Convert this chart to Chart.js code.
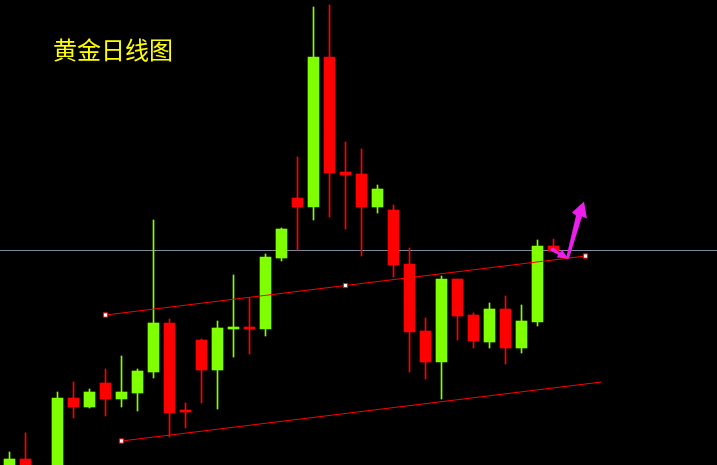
<!DOCTYPE html>
<html>
<head>
<meta charset="utf-8">
<script src="https://cdn.jsdelivr.net/npm/chart.js@4.4.1/dist/chart.umd.min.js"></script>
<style>
  html, body { margin: 0; padding: 0; background: #000; }
  #wrap { position: relative; width: 717px; height: 465px; background: #000; }
  #title {
    position: absolute; left: 53px; top: 35px;
    font-family: "Noto Sans CJK SC", sans-serif; font-size: 24px; line-height: 28px;
    color: #ffff00; white-space: nowrap;
  }
</style>
</head>
<body>
<div id="wrap">
  <canvas id="goldChart" width="717" height="465"></canvas>
  <div id="title">黄金日线图</div>
</div>
<script>
// daily candles, left to right
const opens  = [1180, 1185.5, 1179, 1178, 1216, 1211.5, 1223.5, 1215.5, 1218.5, 1229, 1253.5, 1210, 1245, 1230, 1250.5, 1251.5, 1250.5, 1286, 1316, 1311.5, 1386.5, 1329, 1328, 1311.5, 1310, 1283, 1249.5, 1234, 1275.5, 1257.5, 1244, 1260.5, 1241, 1254, 1292];
const highs  = [1189, 1198.5, 1181, 1219, 1224, 1220.5, 1230.5, 1237, 1230.5, 1305, 1255.5, 1213.5, 1245.5, 1254.5, 1277.5, 1266, 1288, 1301, 1336.5, 1411.5, 1412.5, 1344, 1340.5, 1322.5, 1312.5, 1291, 1256, 1277, 1275.5, 1258.5, 1263.5, 1267, 1262.5, 1295, 1295.5];
const lows   = [1175, 1176, 1168, 1176, 1206, 1211, 1207, 1211.5, 1209.5, 1226, 1196.5, 1201, 1213.5, 1210.5, 1236.5, 1238, 1247, 1284.5, 1290, 1305, 1306.5, 1300.5, 1287, 1308.5, 1276.5, 1229, 1225.5, 1215.5, 1245, 1241, 1241, 1233, 1238.5, 1252, 1289.5];
const closes = [1185.5, 1179, 1172, 1216, 1211.5, 1219, 1215.5, 1219, 1229.5, 1253.5, 1208.5, 1209, 1230, 1251, 1251.5, 1250.5, 1286.5, 1300.5, 1311.5, 1386.5, 1328.5, 1327.5, 1311.5, 1320.5, 1282.5, 1249, 1234, 1275.5, 1257, 1244.5, 1260.5, 1241, 1254.5, 1292, 1289.5];

// channel lines: [candle index, price]
const upperChannel = [[6, 1257.5], [21, 1272.25], [36, 1287]];
const lowerChannel = [[7, 1194.5], [37, 1224]];
const priceLine = 1289.75;

const UP = '#7fff00';
const DOWN = '#ff0000';

const idx = opens.map((_, i) => i);
const colors = idx.map(i => closes[i] >= opens[i] ? UP : DOWN);

// magenta arrow, anchored on the channel, shape in pixels
const arrowAnchor = [34.875, 1285.8];
const arrowShapes = [
  [[-1.5, 0], [8.5, -43], [4.5, -46], [16.5, -57], [19.5, -40], [14.5, -42], [1.5, 0]],
  [[-16.5, -10], [-14.5, -11], [-7.5, -6], [-5.5, -9], [0.5, 0], [-10.5, -1], [-9.5, -4], [-17.5, -8]]
];

const arrowPlugin = {
  id: 'arrow',
  afterDatasetsDraw(chart) {
    const {ctx, scales} = chart;
    const ax = scales.x.getPixelForValue(arrowAnchor[0]);
    const ay = scales.y.getPixelForValue(arrowAnchor[1]);
    ctx.save();
    ctx.fillStyle = 'rgb(235,30,235)';
    arrowShapes.forEach(shape => {
      ctx.beginPath();
      shape.forEach(([dx, dy], k) => k ? ctx.lineTo(ax + dx, ay + dy) : ctx.moveTo(ax + dx, ay + dy));
      ctx.closePath();
      ctx.fill();
    });
    ctx.restore();
  }
};

new Chart(document.getElementById('goldChart'), {
  type: 'bar',
  data: {
    datasets: [
      {
        type: 'line',
        data: upperChannel.map(([x, y]) => ({x, y})),
        borderColor: DOWN, borderWidth: 1,
        pointStyle: 'rect', pointRadius: 3,
        pointBackgroundColor: '#fff', pointBorderColor: DOWN, pointBorderWidth: 1,
        order: 0
      },
      {
        type: 'line',
        data: lowerChannel.map(([x, y]) => ({x, y})),
        borderColor: DOWN, borderWidth: 1,
        pointStyle: 'rect', pointRadius: [3, 0],
        pointBackgroundColor: '#fff', pointBorderColor: DOWN, pointBorderWidth: 1,
        order: 0
      },
      {
        data: idx.map(i => ({x: i, y: [opens[i], closes[i]]})),
        backgroundColor: colors,
        barThickness: 11,
        minBarLength: 2,
        grouped: false,
        order: 1
      },
      {
        data: idx.map(i => ({x: i, y: [lows[i], highs[i]]})),
        backgroundColor: colors,
        barThickness: 1,
        grouped: false,
        order: 2
      },
      {
        type: 'line',
        data: [{x: -1, y: priceLine}, {x: 45, y: priceLine}],
        borderColor: 'rgb(128,140,160)', borderWidth: 1,
        pointRadius: 0,
        order: 3
      }
    ]
  },
  options: {
    responsive: false,
    animation: false,
    layout: { padding: 0, autoPadding: false },
    scales: {
      x: { type: 'linear', min: -0.59375, max: 44.21875, offset: false, display: false },
      y: { min: 1182.5, max: 1415, display: false }
    },
    plugins: {
      legend: { display: false },
      tooltip: { enabled: false }
    }
  },
  plugins: [arrowPlugin]
});
</script>
</body>
</html>
